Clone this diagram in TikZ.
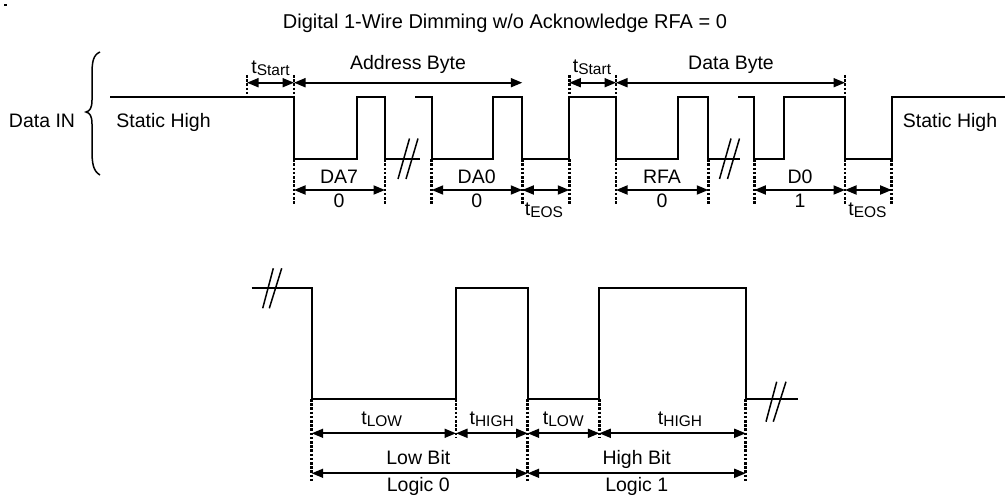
\documentclass[tikz,border=0pt]{standalone}
\usepackage{fontspec}
\setmainfont{Liberation Sans}
\usetikzlibrary{arrows.meta}
\newcommand\tsb[1]{t\raisebox{-2pt}{\fontsize{15.5}{15.5}\selectfont #1}}
\begin{document}
\begin{tikzpicture}[x=1pt,y=-1pt,
  wave/.style={line width=1.8pt, line join=miter},
  brk/.style={line width=1.5pt},
  dotln/.style={line width=2.8pt, dash pattern=on 2.6pt off 1.6pt},
  dim/.style={line width=1.8pt, {Triangle[length=11.5pt,width=9pt]}-{Triangle[length=11.5pt,width=9pt]}},
  lbl/.style={anchor=base, inner sep=0pt, font=\fontsize{19.5}{22}\selectfont}]
\useasboundingbox (0,0) rectangle (1007,497);
\fill (4,4.3) rectangle (7,6);
% title
\node[lbl, font=\fontsize{20}{22}\selectfont] (title) at (505,28.5) {Digital 1-Wire Dimming w/o Acknowledge RFA = 0};
% brace and labels
\draw[line width=1.5pt] (100,52) .. controls (93,55) and (92,62) .. (92,75) -- (92,100)
  .. controls (92,108) and (90,111) .. (86,112) .. controls (90,113) and (92,116) .. (92,124)
  -- (92,150) .. controls (92,163) and (93,171) .. (100,175);
\node[lbl] (datain) at (42,127.3) {Data IN};
\node[lbl] (sh1) at (163.5,127.3) {Static High};
\node[lbl] (sh2) at (950,127.3) {Static High};
% top waveform
\draw[wave] (110,97.3) -- (294,97.3) -- (294,159.3) -- (356.7,159.3) -- (356.7,97.3) -- (385,97.3) -- (385,159.3) -- (420,159.3);
\draw[wave] (415,97.3) -- (431.7,97.3) -- (431.7,159.3) -- (493.3,159.3) -- (493.3,97.3) -- (522.3,97.3) -- (522.3,159.3) -- (569.3,159.3) -- (569.3,97.3) -- (616,97.3) -- (616,159.3) -- (678.3,159.3) -- (678.3,97.3) -- (708.3,97.3) -- (708.3,159.3) -- (740,159.3);
\draw[wave] (738.3,97.3) -- (754.3,97.3) -- (754.3,159.3) -- (784,159.3) -- (784,97.3) -- (845,97.3) -- (845,159.3) -- (891.7,159.3) -- (891.7,97.3) -- (1005,97.3);
% breaks
\draw[brk] (398,179) -- (409.5,138.5) (406,179) -- (418,138.5);
\draw[brk] (719.5,179) -- (731,138.5) (727.5,179) -- (739.5,138.5);
% top dotted guides
\foreach \x in {247,294,569.3,616,845} \draw[dotln] (\x,75) -- (\x,97.3);
\foreach \x in {294,385,431.7,522.3,569.3,616,708.3,754.3,845,891.7} \draw[dotln] (\x,159.3) -- (\x,205);
% top dimension arrows
\coordinate (s1a) at (247,82.7); \coordinate (s1b) at (294,82.7);
\coordinate (s2a) at (569.3,82.7); \coordinate (s2b) at (616,82.7);
\coordinate (abE) at (522.3,82.7); \coordinate (dbE) at (845,82.7);
\draw[dim] (s1a) -- (s1b);
\draw[dim] (s1b) -- (abE);
\draw[dim] (s2a) -- (s2b);
\draw[dim] (s2b) -- (dbE);
\coordinate (b0) at (294,190); \coordinate (b1) at (385,190);
\coordinate (b2) at (431.7,190); \coordinate (b3) at (522.3,190);
\coordinate (b4) at (569.3,190); \coordinate (b5) at (616,190);
\coordinate (b6) at (708.3,190); \coordinate (b7) at (754.3,190);
\coordinate (b8) at (845,190); \coordinate (b9) at (891.7,190);
\draw[dim] (b0) -- (b1);
\draw[dim] (b2) -- (b3);
\draw[dim] (b3) -- (b4);
\draw[dim] (b5) -- (b6);
\draw[dim] (b7) -- (b8);
\draw[dim] (b8) -- (b9);
% top labels
\node[lbl] (ts1) at (270.5,73.3) {\tsb{Start}};
\node[lbl] (ts2) at (592,72.5) {\tsb{Start}};
\node[lbl] (ab) at (408,70) {Address Byte};
\node[lbl] (db) at (731,70) {Data Byte};
\node[lbl] (da7) at (339,183.3) {DA7};
\node[lbl] (v1) at (339,207.3) {0};
\node[lbl] (da0) at (476.7,183.3) {DA0};
\node[lbl] (v2) at (476.7,207.3) {0};
\node[lbl] (rfa) at (662,183.3) {RFA};
\node[lbl] (v3) at (662,207.3) {0};
\node[lbl] (d0) at (800,183.3) {D0};
\node[lbl] (v4) at (800,207.3) {1};
\node[lbl] (te1) at (544,216) {\tsb{EOS}};
\node[lbl] (te2) at (867.5,216) {\tsb{EOS}};
% bottom waveform
\draw[wave] (251.7,288.3) -- (311.7,288.3) -- (311.7,399) -- (456,399) -- (456,288.3) -- (527.7,288.3) -- (527.7,399) -- (599.3,399) -- (599.3,288.3) -- (745.7,288.3) -- (745.7,399) -- (798.3,399);
\draw[brk] (262.7,308.3) -- (273.3,268.3) (269.3,308.3) -- (281.7,268.3);
\draw[brk] (766,421.7) -- (776.7,381.7) (773.3,421.7) -- (786,381.7);
\foreach \x in {311.7,527.7,745.7} \draw[dotln] (\x,399) -- (\x,481.7);
\foreach \x in {456,599.3} \draw[dotln] (\x,399) -- (\x,438);
\coordinate (c0) at (311.7,433.3); \coordinate (c1) at (456,433.3);
\coordinate (c2) at (527.7,433.3); \coordinate (c3) at (599.3,433.3);
\coordinate (c4) at (745.7,433.3);
\draw[dim] (c0) -- (c1);
\draw[dim] (c1) -- (c2);
\draw[dim] (c2) -- (c3);
\draw[dim] (c3) -- (c4);
\coordinate (e0) at (311.7,473.3); \coordinate (e1) at (527.7,473.3);
\coordinate (e2) at (745.7,473.3);
\draw[dim] (e0) -- (e1);
\draw[dim] (e1) -- (e2);
\node[lbl] (tl1) at (381.7,424) {\tsb{LOW}};
\node[lbl] (th1) at (491.7,424) {\tsb{HIGH}};
\node[lbl] (tl2) at (563.3,424) {\tsb{LOW}};
\node[lbl] (th2) at (680,424) {\tsb{HIGH}};
\node[lbl] (lb) at (418.3,464) {Low Bit};
\node[lbl] (l0) at (418.3,491.7) {Logic 0};
\node[lbl] (hb) at (636.7,464) {High Bit};
\node[lbl] (l1) at (636.7,491.7) {Logic 1};
\end{tikzpicture}
\end{document}
